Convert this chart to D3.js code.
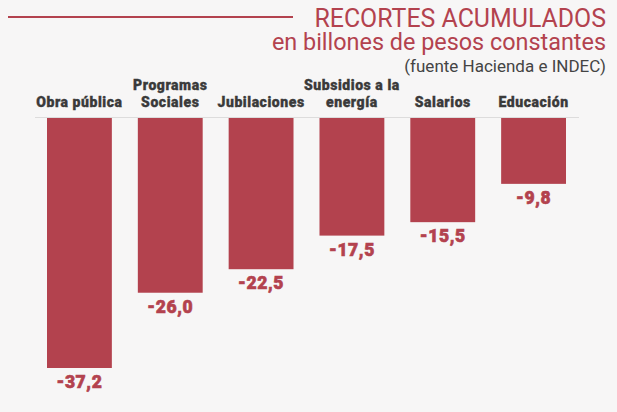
<!DOCTYPE html>
<html><head><meta charset="utf-8">
<script src="https://cdn.jsdelivr.net/npm/d3@7"></script>
<style>
html,body{margin:0;padding:0;background:#f7f6f6;}
svg{display:block;}
</style></head>
<body>
<script>
const categories = [["Obra pública"],["Programas","Sociales"],["Jubilaciones"],["Subsidios a la","energía"],["Salarios"],["Educación"]];
const values = [-37.2, -26.0, -22.5, -17.5, -15.5, -9.8];
const titleLines = ["RECORTES ACUMULADOS", "en billones de pesos constantes"];
const sourceText = "(fuente Hacienda e INDEC)";

const W = 617, H = 412;
const red = "#b3424e";
const svg = d3.select("body").append("svg").attr("width", W).attr("height", H);
svg.append("rect").attr("width", W).attr("height", H).attr("fill", "#f7f6f6");

const x = d3.scaleBand().domain(d3.range(values.length)).range([47, 566]).paddingInner(0.286).paddingOuter(0);
const y = d3.scaleLinear().domain([0, -37.2]).range([118, 368]);

// title
svg.append("line").attr("x1", 8).attr("x2", 293).attr("y1", 17).attr("y2", 17)
  .attr("stroke", red).attr("stroke-width", 2);
svg.append("text").attr("x", 606).attr("y", 27).attr("text-anchor", "end")
  .attr("font-family", "Roboto").attr("font-weight", 400).attr("font-size", 24.9)
  .attr("fill", red).text(titleLines[0]);
svg.append("text").attr("x", 606).attr("y", 50).attr("text-anchor", "end")
  .attr("font-family", "Roboto").attr("font-weight", 400).attr("font-size", 23.4)
  .attr("fill", red).text(titleLines[1]);
svg.append("text").attr("x", 606).attr("y", 72).attr("text-anchor", "end")
  .attr("font-family", "Roboto").attr("font-weight", 400).attr("font-size", 17)
  .attr("fill", "#444").text(sourceText);

// baseline
svg.append("line").attr("x1", 35).attr("x2", 579).attr("y1", y(0) - 0.5).attr("y2", y(0) - 0.5)
  .attr("stroke", "#dddcdc").attr("stroke-width", 1);

// bars
svg.selectAll("rect.bar").data(values).join("rect").attr("class", "bar")
  .attr("x", (d, i) => x(i)).attr("width", x.bandwidth())
  .attr("y", y(0)).attr("height", d => y(d) - y(0))
  .attr("fill", red);

// value labels
svg.selectAll("text.val").data(values).join("text").attr("class", "val")
  .attr("x", (d, i) => x(i) + x.bandwidth() / 2).attr("y", d => y(d) + 20)
  .attr("text-anchor", "middle").attr("font-family", "Roboto").attr("font-weight", 900)
  .attr("font-size", 17.5).attr("fill", red)
  .attr("stroke", red).attr("stroke-width", 0.6).attr("letter-spacing", 0.6)
  .text(d => d3.format(".1f")(d).replace("−", "-").replace(".", ","));

// category labels
const cat = svg.selectAll("text.cat").data(categories).join("text").attr("class", "cat")
  .attr("x", (d, i) => x(i) + x.bandwidth() / 2)
  .attr("text-anchor", "middle").attr("font-family", "Roboto").attr("font-weight", 900)
  .attr("font-size", 14).attr("fill", "#3a3a3a")
  .attr("stroke", "#3a3a3a").attr("stroke-width", 0.35).attr("letter-spacing", 0.55);
cat.selectAll("tspan").data(d => d.map((t, j) => ({t, j, n: d.length}))).join("tspan")
  .attr("x", function() { return this.parentNode.getAttribute("x"); })
  .attr("y", d => 107 - (d.n - 1 - d.j) * 17)
  .text(d => d.t);
</script>
</body></html>
